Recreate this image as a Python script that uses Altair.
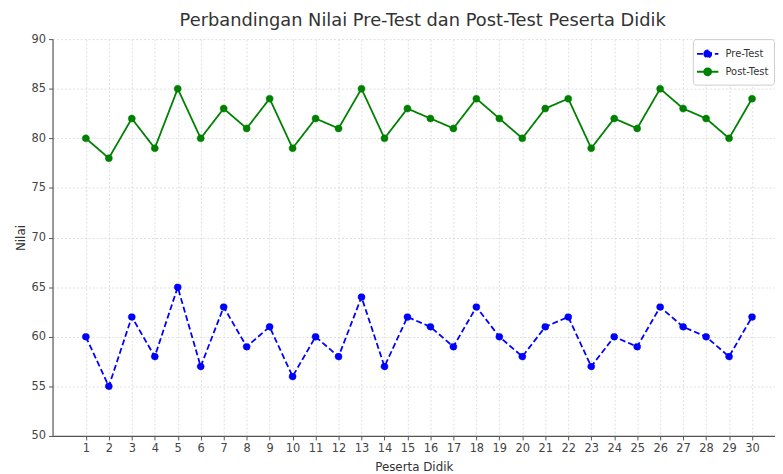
import altair as alt
import pandas as pd

peserta = list(range(1, 31))
pre_test = [60, 55, 62, 58, 65, 57, 63, 59, 61, 56, 60, 58, 64, 57, 62,
            61, 59, 63, 60, 58, 61, 62, 57, 60, 59, 63, 61, 60, 58, 62]
post_test = [80, 78, 82, 79, 85, 80, 83, 81, 84, 79, 82, 81, 85, 80, 83,
             82, 81, 84, 82, 80, 83, 84, 79, 82, 81, 85, 83, 82, 80, 84]
series = ["Pre-Test", "Post-Test"]
colors = ["#0000ff", "#008000"]

rows = []
for s, vals in zip(series, [pre_test, post_test]):
    for p, v in zip(peserta, vals):
        rows.append({"Peserta": p, "Nilai": v, "Seri": s})
df = pd.DataFrame(rows)

FONT = "DejaVu Sans"

x = alt.X("Peserta:Q",
          scale=alt.Scale(domain=[-0.45, 31.0], nice=False, zero=False),
          axis=alt.Axis(title="Peserta Didik", values=peserta, format="d",
                        labelFlush=False, labelOverlap=False))
y = alt.Y("Nilai:Q",
          scale=alt.Scale(domain=[50, 90], nice=False, zero=False),
          axis=alt.Axis(title="Nilai", values=list(range(50, 91, 5))))
cscale = alt.Scale(domain=series, range=colors)
dscale = alt.Scale(domain=series, range=[[6, 3], [1, 0]])

sym_path = ("M-1.2,0L1.2,0M-0.39,0A0.39,0.39,0,1,1,0.39,0"
            "A0.39,0.39,0,1,1,-0.39,0Z")

leg = alt.Legend(title=None, orient="none", legendX=647, legendY=0,
                 symbolType=sym_path, symbolSize=324, symbolStrokeWidth=1.8,
                 labelFontSize=10, labelFont=FONT, labelColor="#333",
                 rowPadding=0, padding=5, labelOffset=8,
                 strokeColor="#cccccc", fillColor="white", cornerRadius=3)

lines = alt.Chart(df).mark_line(strokeWidth=1.8, clip=True).encode(
    x=x, y=y,
    stroke=alt.Stroke("Seri:N", scale=cscale, legend=leg),
    strokeDash=alt.StrokeDash("Seri:N", scale=dscale, legend=leg),
)
points = alt.Chart(df).mark_point(filled=True, size=50, opacity=1,
                                  strokeWidth=0.5, clip=True).encode(
    x=x, y=y,
    fill=alt.Fill("Seri:N", scale=cscale, legend=leg),
    stroke=alt.Stroke("Seri:N", scale=cscale, legend=leg),
    strokeDash=alt.StrokeDash("Seri:N", scale=dscale, legend=leg),
)

chart = alt.layer(lines, points).properties(
    width=730, height=401,
    title=alt.TitleParams("Perbandingan Nilai Pre-Test dan Post-Test Peserta Didik",
                          fontSize=18, font=FONT, fontWeight="normal",
                          color="#333", offset=3, dx=9),
    autosize=alt.AutoSizeParams(type="none"),
    padding={"left": 45, "top": 29, "right": 0, "bottom": 36},
).configure_view(stroke=None).configure_axis(
    labelFont=FONT, labelFontSize=11.5, labelColor="#444",
    titleFont=FONT, titleFontSize=12, titleFontWeight="normal", titleColor="#333",
    domainColor="#555", domainWidth=1.2, tickColor="#555", tickSize=4,
    labelPadding=3, gridColor="#d6d6d6", gridDash=[2, 2], gridWidth=0.8,
).configure_axisY(titlePadding=4).configure_axisX(titlePadding=7)

chart.save("out.html", embed_options={"renderer": "svg", "actions": False})
